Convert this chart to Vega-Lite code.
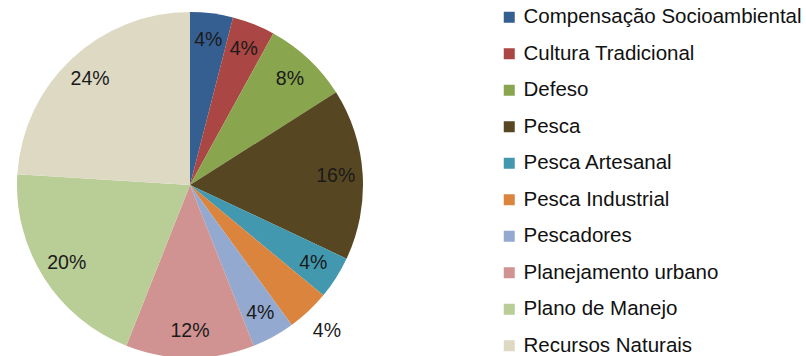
{
  "$schema": "https://vega.github.io/schema/vega-lite/v6.json",
  "width": 380,
  "height": 342,
  "padding": {"left": 0, "top": 14, "right": 426, "bottom": 0},
  "autosize": {"type": "none"},
  "background": "white",
  "config": {"view": {"stroke": null}, "font": "Liberation Sans"},
  "data": {
    "values": [
      {"category": "Compensação Socioambiental", "value": 0.04},
      {"category": "Cultura Tradicional", "value": 0.04},
      {"category": "Defeso", "value": 0.08},
      {"category": "Pesca", "value": 0.16},
      {"category": "Pesca Artesanal", "value": 0.04},
      {"category": "Pesca Industrial", "value": 0.04},
      {"category": "Pescadores", "value": 0.04},
      {"category": "Planejamento urbano", "value": 0.12},
      {"category": "Plano de Manejo", "value": 0.20},
      {"category": "Recursos Naturais", "value": 0.24}
    ]
  },
  "encoding": {
    "theta": {"field": "value", "type": "quantitative", "stack": true},
    "order": {"field": "category", "type": "ordinal", "sort": "ascending"}
  },
  "layer": [
    {
      "mark": {"type": "arc", "outerRadius": 173},
      "encoding": {
        "color": {
          "field": "category",
          "type": "nominal",
          "scale": {
            "domain": ["Compensação Socioambiental", "Cultura Tradicional", "Defeso", "Pesca", "Pesca Artesanal", "Pesca Industrial", "Pescadores", "Planejamento urbano", "Plano de Manejo", "Recursos Naturais"],
            "range": ["#365F91", "#AA4643", "#89A54E", "#564722", "#4198AF", "#DB843D", "#93A9CF", "#D19392", "#B9CD96", "#DDD9C3"]
          },
          "legend": {
            "title": null,
            "orient": "none",
            "legendX": 499,
            "legendY": -7,
            "symbolType": "square",
            "symbolSize": 121,
            "symbolStrokeWidth": 0,
            "labelFontSize": 20.5,
            "labelColor": "#111111",
            "labelFont": "Liberation Sans",
            "rowPadding": 15.5,
            "labelOffset": 4,
            "labelLimit": 400
          }
        }
      }
    },
    {
      "mark": {"type": "text", "radius": 146, "fontSize": 19.5, "fill": "#1a1a1a", "font": "Liberation Sans"},
      "encoding": {
        "detail": {"field": "category", "type": "nominal"},
        "text": {
          "condition": {"test": "datum.category === 'Pesca Industrial'", "value": ""},
          "field": "value", "type": "quantitative", "format": ".0%"
        }
      }
    },
    {
      "mark": {"type": "text", "radius": 200, "fontSize": 19.5, "fill": "#1a1a1a", "font": "Liberation Sans"},
      "encoding": {
        "detail": {"field": "category", "type": "nominal"},
        "text": {
          "condition": {"test": "datum.category !== 'Pesca Industrial'", "value": ""},
          "field": "value", "type": "quantitative", "format": ".0%"
        }
      }
    }
  ]
}
